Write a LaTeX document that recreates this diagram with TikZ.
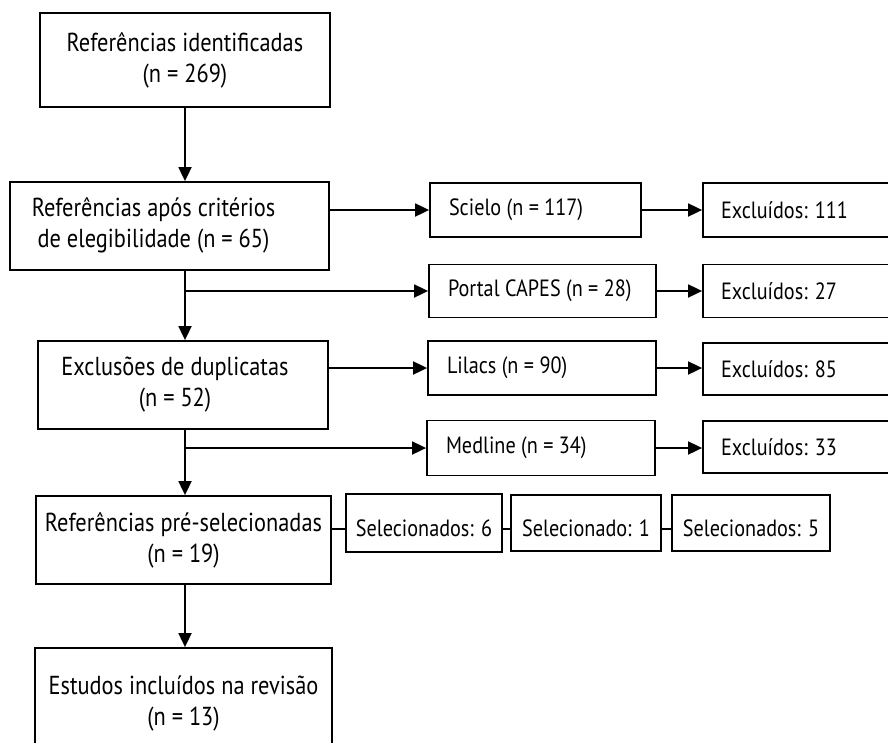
\documentclass[tikz,border=0pt]{standalone}
\usepackage{fontspec}
\setmainfont{PT Sans}[FakeStretch=0.86]
\usetikzlibrary{arrows.meta}
\newcommand{\lft}[2]{\makebox[#1][l]{#2}}
\begin{document}
\begin{tikzpicture}[x=1pt,y=-1pt,
  boxp/.style={draw, line width=1.8pt, inner sep=0pt, font=\fontsize{26}{31}\selectfont},
  box/.style={boxp, align=center},
  sbox/.style={box, font=\fontsize{23.5}{31}\selectfont, text height=27pt, text depth=0pt},
  lbox/.style={boxp, inner xsep=19pt, font=\fontsize{23.5}{31}\selectfont},
  ebox/.style={boxp, inner xsep=18pt, font=\fontsize{23.5}{31}\selectfont},
  arr/.style={line width=1.8pt, -{Triangle[length=14pt,width=13pt]}},
  ln/.style={line width=1.8pt}]
\useasboundingbox (0,0) rectangle (888,742);
\fill[white] (0,0) rectangle (888,742);
% left column
\node[box, minimum width=290pt, minimum height=94pt] (ident) at (185,60) {Referências identificadas\\(n = 269)};
\node[boxp, minimum width=319pt, minimum height=88pt] (apos) at (169.5,226) {\begin{tabular}{@{}c@{}}Referências após critérios\\de elegibilidade (n = 65)\end{tabular}\hspace*{32pt}};
\node[boxp, minimum width=290pt, minimum height=88pt] (excl) at (183,385) {\begin{tabular}{@{}c@{}}Exclusões de duplicatas\\(n = 52)\end{tabular}\hspace*{16pt}};
\node[box, minimum width=295pt, minimum height=88pt] (pre) at (183.5,540) {Referências pré-selecionadas\\(n = 19)};
\node[box, minimum width=297pt, minimum height=110pt] (est) at (183.5,703) {Estudos incluídos na revisão\\(n = 13)};
% databases
\node[lbox, minimum height=54pt] (sci) at (535.5,210) {\lft{173pt}{Scielo (n = 117)}};
\node[lbox, minimum height=53pt] (cap) at (542.5,291) {\lft{189pt}{Portal CAPES (n = 28)}};
\node[lbox, minimum height=54pt] (lil) at (542,368) {\lft{190pt}{Lilacs (n = 90)}};
\node[lbox, minimum height=55pt] (med) at (541,448) {\lft{190pt}{Medline (n = 34)}};
% excluded
\node[ebox, minimum height=54pt] (e1) at (801.5,210) {\lft{161pt}{Excluídos: 111}};
\node[ebox, minimum height=53pt] (e2) at (801.5,291) {\lft{161pt}{Excluídos: 27}};
\node[ebox, minimum height=52pt] (e3) at (801.5,369) {\lft{161pt}{Excluídos: 85}};
\node[ebox, minimum height=52pt] (e4) at (801.5,447) {\lft{161pt}{Excluídos: 33}};
% selected
\node[sbox, minimum width=156pt, minimum height=58pt] (s6) at (424,523) {Selecionados: 6};
\node[sbox, minimum width=150pt, minimum height=56pt] (s1) at (586,523) {Selecionado: 1};
\node[sbox, minimum width=158pt, minimum height=56pt] (s5) at (751,523) {Selecionados: 5};
% connectors
\coordinate (vx) at (185,0);
\coordinate (sr) at (0,529);
\draw[arr] (ident.south) -- (ident.south |- apos.north);
\draw[arr] (apos.east |- sci.west) -- (sci.west);
\draw[arr] (vx |- apos.south) -- (vx |- excl.north);
\draw[arr] (vx |- cap.west) -- (cap.west);
\draw[arr] (sci) -- (e1);
\draw[arr] (cap) -- (e2);
\draw[arr] (excl.east |- lil.west) -- (lil.west);
\draw[arr] (lil.east) -- (lil.east -| e3.west);
\draw[arr] (vx |- excl.south) -- (vx |- pre.north);
\draw[arr] (vx |- med.west) -- (med.west);
\draw[arr] (med.east) -- (med.east -| e4.west);
\draw[arr] (vx |- pre.south) -- (vx |- est.north);
\draw[ln] (pre.east |- sr) -- (s6.west |- sr);
\draw[ln] (s6.east |- sr) -- (s1.west |- sr);
\draw[ln] (s1.east |- sr) -- (s5.west |- sr);
\end{tikzpicture}
\end{document}
